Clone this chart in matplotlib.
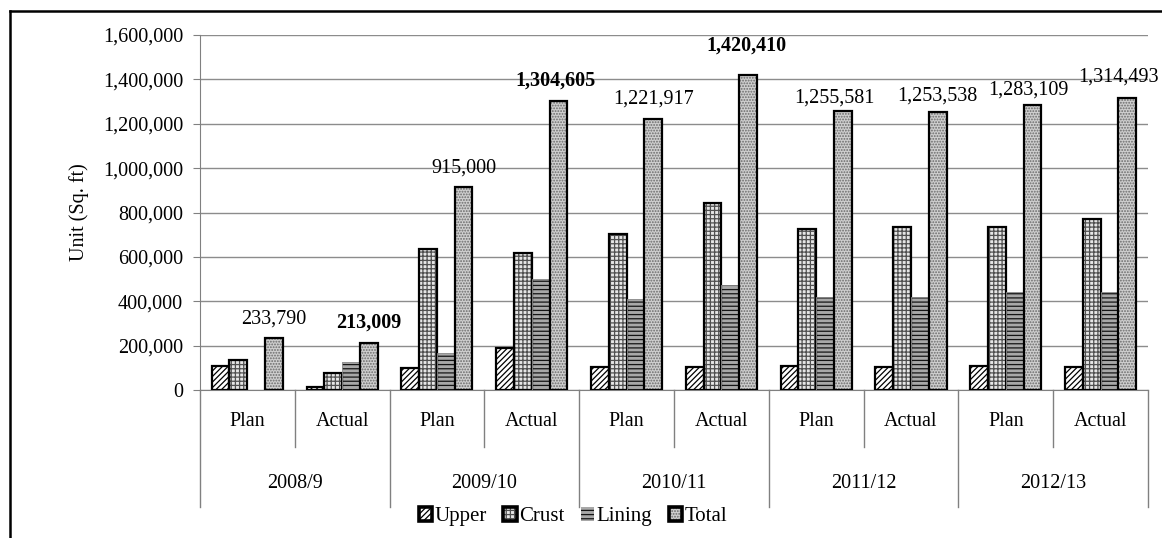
import matplotlib
matplotlib.use("Agg")
import matplotlib.pyplot as plt
from matplotlib.patches import Patch
from matplotlib.legend_handler import HandlerTuple
import numpy as np

years = ["2008/9", "2009/10", "2010/11", "2011/12", "2012/13"]
phases = ["Plan", "Actual"]
series_names = ["Upper", "Crust", "Lining", "Total"]

upper = [108000, 15000, 98000, 188000, 105000, 105000, 108000, 105000, 108000, 105000]
crust = [135000, 77000, 635000, 619000, 703000, 844000, 725000, 733000, 733000, 769000]
lining = [0, 128000, 165000, 499000, 409000, 473000, 418000, 418000, 443000, 443000]
total = [233790, 213009, 915000, 1304605, 1221917, 1420410, 1255581, 1253538, 1283109, 1314493]
total_bold = [False, True, False, True, False, True, False, False, False, False]

yticks = [0, 200000, 400000, 600000, 800000, 1000000, 1200000, 1400000, 1600000]

# label placement offsets (pixels) - style only
label_dx = [0, 0, 0, -3, 0, -2, -8, 0, -4, -9]
label_dy = [15, 15, 14, 15, 15, 24, 9, 11, 11, 17]

plt.rcParams["font.family"] = ["Liberation Serif", "DejaVu Serif"]
plt.rcParams["hatch.linewidth"] = 0.9

FS = 14.5

fig = plt.figure(figsize=(11.62, 5.38), dpi=100)
ax = fig.add_axes([0.172, 0.275, 0.816, 0.66])

n = len(years) * len(phases)
x = np.arange(n)
bw = 0.1875
styles = [
    dict(face="white", hatch="//////", hcol="black", edge="black", lw=1.6, legedge="black"),
    dict(face="#e6e6e6", hatch="++++", hcol="#505050", edge="black", lw=1.6, legedge="black"),
    dict(face="#a8a8a8", hatch="----", hcol="#151515", edge="#909090", lw=0.6, legedge="none"),
    dict(face="#cfcfcf", hatch="......", hcol="#6a6a6a", edge="black", lw=1.6, legedge="black"),
]
data = [upper, crust, lining, total]
handles = []
for i, (vals, st) in enumerate(zip(data, styles)):
    pos = x + (i - 1.5) * bw
    ax.bar(pos, vals, bw, color=st["face"], hatch=st["hatch"], edgecolor=st["hcol"],
           linewidth=0, zorder=3)
    ax.bar(pos, vals, bw, fill=False, edgecolor=st["edge"], linewidth=st["lw"], zorder=4)
    h1 = Patch(facecolor=st["face"], hatch=st["hatch"], edgecolor=st["hcol"], linewidth=0)
    h2 = Patch(fill=False, edgecolor=st["legedge"], linewidth=2.6)
    handles.append((h1, h2))

pos_tot = x + 1.5 * bw
for j, v in enumerate(total):
    ax.annotate(f"{v:,}", (pos_tot[j], v), xytext=(label_dx[j], label_dy[j]),
                textcoords="offset pixels", ha="center", va="baseline",
                fontsize=FS, fontweight="bold" if total_bold[j] else "normal", zorder=5)

ax.set_xlim(-0.5, n - 0.5)
ax.set_ylim(0, 1600000)
ax.set_yticks(yticks)
ax.set_yticklabels([f"{t:,}" for t in yticks], fontsize=FS)
ax.tick_params(axis="y", length=5, color="#808080", pad=7)
ax.grid(axis="y", color="#8c8c8c", linewidth=1.0, zorder=0)
ax.set_axisbelow(True)
for s in ["top", "right"]:
    ax.spines[s].set_visible(False)
ax.spines["left"].set_color("#808080")
ax.spines["bottom"].set_color("#808080")
ax.set_ylabel("Unit (Sq. ft)", fontsize=FS, labelpad=10)

ax.set_xticks(x)
ax.set_xticklabels([p for _ in years for p in phases], fontsize=FS)
ax.tick_params(axis="x", length=0, pad=16)

tr = ax.get_xaxis_transform()
for k in range(n + 1):
    b = k - 0.5
    depth = -0.33 if k % 2 == 0 else -0.16
    ax.plot([b, b], [0, depth], transform=tr, color="#808080", lw=1.0, clip_on=False)
for yi, yr in enumerate(years):
    ax.text(2 * yi + 0.5, -0.262, yr, transform=tr, ha="center", va="center", fontsize=FS)

leg = fig.legend(handles, series_names, loc="center", bbox_to_anchor=(0.493, 0.04), ncol=4,
                 frameon=False, fontsize=FS + 0.5,
                 handler_map={tuple: HandlerTuple(ndivide=1, pad=0)},
                 handlelength=0.65, handleheight=0.65, handletextpad=0.1, columnspacing=0.8,
                 borderpad=0.1)

# outer frame lines (top and left)
fig.add_artist(plt.Line2D([0.009, 1.0], [0.98, 0.98], transform=fig.transFigure, color="black", lw=1.8))
fig.add_artist(plt.Line2D([0.009, 0.009], [0.0, 0.98], transform=fig.transFigure, color="black", lw=1.8))

fig.savefig("out.png", dpi=100)
